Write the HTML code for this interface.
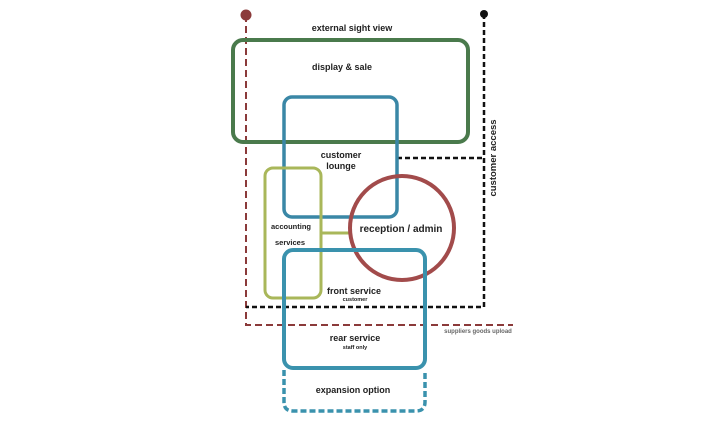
<!DOCTYPE html>
<html><head><meta charset="utf-8"><style>
html,body{margin:0;padding:0;background:#fff;}
svg{display:block;}
text{font-family:"Liberation Sans",sans-serif;font-weight:bold;fill:#222;text-anchor:middle;}
</style></head><body>
<svg width="728" height="425" viewBox="0 0 728 425" xmlns="http://www.w3.org/2000/svg">
<path d="M246 15 V325 H513" fill="none" stroke="#8b3a3a" stroke-width="2" stroke-dasharray="7,4"/>
<circle cx="246" cy="15" r="5.5" fill="#8b3a3a"/>
<path d="M484 14 V307 H246" fill="none" stroke="#111" stroke-width="2.5" stroke-dasharray="5,3"/>
<path d="M397 158 H484" fill="none" stroke="#111" stroke-width="2.5" stroke-dasharray="5,3"/>
<circle cx="484" cy="14" r="4" fill="#111"/>
<rect x="233" y="40" width="235" height="102" rx="10" fill="none" stroke="#4a7a4c" stroke-width="4"/>
<rect x="284" y="97" width="113" height="120" rx="8" fill="none" stroke="#3a87a6" stroke-width="3.5"/>
<rect x="265" y="168" width="56" height="130" rx="8" fill="none" stroke="#a9b75a" stroke-width="3"/>
<line x1="321" y1="233" x2="350" y2="233" stroke="#a9b75a" stroke-width="3"/>
<circle cx="402" cy="228" r="52" fill="none" stroke="#a24b4b" stroke-width="4"/>
<rect x="284" y="250" width="141" height="118" rx="9" fill="none" stroke="#3a92ad" stroke-width="4"/>
<path d="M284 370 V402 Q284 411 293 411 H416 Q425 411 425 402 V370" fill="none" stroke="#3a92ad" stroke-width="3.5" stroke-dasharray="6,3"/>
<text x="352" y="31" font-size="9">external sight view</text>
<text x="342" y="70" font-size="9">display &amp; sale</text>
<text x="341" y="158" font-size="9">customer</text>
<text x="341" y="169" font-size="9">lounge</text>
<text x="291" y="229" font-size="7.5">accounting</text>
<text x="290" y="245" font-size="7.5">services</text>
<text x="401" y="232" font-size="10">reception / admin</text>
<text x="354" y="294" font-size="9">front service</text>
<text x="355" y="301" font-size="5.5">customer</text>
<text x="478" y="333" font-size="6" font-weight="normal" style="fill:#666">suppliers goods upload</text>
<text x="355" y="341" font-size="9">rear service</text>
<text x="355" y="349" font-size="5.5">staff only</text>
<text x="353" y="393" font-size="9">expansion option</text>
<text x="0" y="0" font-size="9.5" transform="translate(496,158) rotate(-90)">customer access</text>
</svg>
</body></html>
